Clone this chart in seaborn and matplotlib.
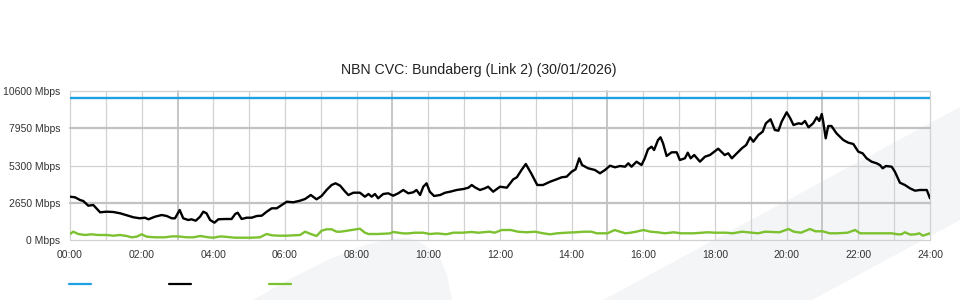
import matplotlib
matplotlib.use("Agg")
import matplotlib.pyplot as plt
import seaborn as sns
import pandas as pd
from matplotlib.lines import Line2D
from matplotlib.patches import Polygon

# ---------------- data ----------------
title = "NBN CVC: Bundaberg (Link 2) (30/01/2026)"
y_ticks = [0, 2650, 5300, 7950, 10600]
y_tick_labels = ["0 Mbps", "2650 Mbps", "5300 Mbps", "7950 Mbps", "10600 Mbps"]
x_ticks = list(range(0, 25, 2))
x_tick_labels = [f"{h:02d}:00" for h in x_ticks]

capacity_time = [0, 24]
capacity_mbps = [10080, 10080]

traffic_time = [0.0, 0.14, 0.28, 0.37, 0.51, 0.65, 0.84, 1.02, 1.21, 1.40, 1.58, 1.77, 1.95, 2.09,
                2.19, 2.37, 2.56, 2.70, 2.84, 2.93, 3.06, 3.16, 3.30, 3.39, 3.51, 3.63, 3.72, 3.81,
                3.91, 4.03, 4.14, 4.33, 4.51, 4.61, 4.68, 4.79, 4.93, 5.07, 5.21, 5.35, 5.49, 5.63,
                5.77, 5.91, 6.05, 6.23, 6.42, 6.56, 6.72, 6.88, 7.02, 7.16, 7.30, 7.41, 7.54, 7.68,
                7.77, 7.91, 8.09, 8.23, 8.33, 8.42, 8.51, 8.60, 8.74, 8.88, 9.02, 9.16, 9.30, 9.44,
                9.58, 9.67, 9.77, 9.86, 9.95, 10.04, 10.16, 10.33, 10.47, 10.61, 10.79, 10.98, 11.12,
                11.21, 11.30, 11.44, 11.58, 11.67, 11.81, 12.0, 12.19, 12.37, 12.47, 12.60, 12.72,
                12.88, 13.04, 13.20, 13.40, 13.58, 13.72, 13.86, 14.0, 14.11, 14.21, 14.29, 14.46,
                14.65, 14.79, 14.93, 15.07, 15.21, 15.35, 15.49, 15.58, 15.67, 15.81, 15.95, 16.04,
                16.13, 16.23, 16.30, 16.41, 16.48, 16.55, 16.65, 16.79, 16.93, 17.02, 17.16, 17.24,
                17.32, 17.42, 17.58, 17.72, 17.86, 18.09, 18.27, 18.37, 18.47, 18.61, 18.75, 18.87,
                18.98, 19.07, 19.21, 19.33, 19.42, 19.55, 19.67, 19.77, 19.86, 20.0, 20.10, 20.19,
                20.33, 20.42, 20.51, 20.61, 20.74, 20.84, 20.91, 20.98, 21.02, 21.09, 21.16, 21.25,
                21.39, 21.58, 21.72, 21.86, 22.0, 22.12, 22.23, 22.37, 22.51, 22.60, 22.68, 22.77,
                22.93, 23.02, 23.16, 23.30, 23.44, 23.58, 23.72, 23.91, 24.0]
traffic_mbps = [3096, 3053, 2861, 2790, 2457, 2506, 1988, 2031, 2009, 1917, 1775, 1633, 1562, 1605,
                1491, 1676, 1796, 1725, 1562, 1562, 2151, 1562, 1441, 1491, 1392, 1676, 2031, 1917,
                1441, 1250, 1491, 1512, 1512, 1867, 1960, 1512, 1605, 1605, 1725, 1747, 2031, 2272,
                2272, 2506, 2741, 2698, 2812, 2932, 3216, 2911, 3145, 3571, 3926, 4047, 3877, 3451,
                3216, 3380, 3380, 3096, 3287, 3096, 3287, 2982, 3287, 3337, 3167, 3337, 3571, 3337,
                3408, 3571, 3216, 3806, 4047, 3451, 3145, 3216, 3380, 3451, 3571, 3642, 3735,
                3926, 3763, 3571, 3692, 3806, 3451, 3806, 3735, 4331, 4473, 4991, 5417,
                4707, 3926, 3926, 4161, 4331, 4473, 4516, 4871, 5041, 5822, 5346, 5112,
                4991, 4757, 4991, 5297, 5183, 5275, 5226, 5467, 5226, 5581, 5346, 5822,
                6461, 6646, 6411, 7121, 7313, 6887, 5985, 6248, 6248, 5701, 5822, 6220,
                5822, 6056, 5581, 5936, 6056, 6504, 6056, 6177, 5822, 6177, 6532, 6766,
                7313, 7001, 7476, 7711, 8307, 8591, 7831, 7782, 8421, 9088, 8662, 8186,
                8307, 8257, 8470, 8023, 8307, 8733, 8470, 8967, 8421, 7242, 8115, 8115,
                7597, 7121, 6930, 6837, 6291, 6177, 5822, 5581, 5467, 5346, 5112, 5275,
                5226, 4871, 4090, 3926, 3692, 3522, 3571, 3571, 2982]

other_time = [0.0, 0.09, 0.23, 0.42, 0.60, 0.79, 1.02, 1.21, 1.40, 1.58, 1.72, 1.86, 2.0, 2.14,
              2.37, 2.65, 2.84, 3.02, 3.25, 3.45, 3.63, 3.86, 4.0, 4.2, 4.4, 4.6, 4.85, 5.07, 5.3,
              5.49, 5.63, 5.82, 6.05, 6.42, 6.56, 6.72, 6.88, 7.02, 7.16, 7.30, 7.44, 7.55, 7.68,
              7.86, 8.09, 8.23, 8.33, 8.6, 8.93, 9.02, 9.3, 9.44, 9.63, 9.85, 10.04, 10.25, 10.5,
              10.7, 10.95, 11.2, 11.4, 11.6, 11.7, 11.85, 12.05, 12.3, 12.5, 12.74, 12.98, 13.2,
              13.4, 13.6, 13.85, 14.1, 14.34, 14.55, 14.7, 15.0, 15.2, 15.35, 15.5, 15.65, 15.8,
              16.0, 16.2, 16.4, 16.6, 16.85, 17.05, 17.4, 17.8, 18.0, 18.3, 18.5, 18.75, 19.2,
              19.4, 19.8, 20.05, 20.2, 20.4, 20.65, 20.8, 21.0, 21.2, 21.4, 21.7, 21.91, 22.05,
              22.4, 22.93, 23.1, 23.2, 23.3, 23.45, 23.6, 23.7, 23.8, 24.0]
other_mbps = [447, 611, 447, 376, 426, 376, 376, 327, 376, 305, 213, 256, 426, 256,
              213, 213, 277, 277, 213, 213, 305, 213, 185, 277, 234, 185, 185, 185, 213,
              447, 355, 327, 327, 376, 611, 447, 305, 682, 781, 781, 611, 611, 660,
              731, 824, 540, 447, 447, 490, 589, 490, 490, 540, 540, 447, 490, 426,
              540, 540, 589, 540, 589, 611, 540, 731, 731, 611, 568, 611, 497,
              426, 497, 540, 568, 611, 611, 497, 497, 731, 611, 497, 540, 611,
              731, 611, 568, 497, 568, 497, 497, 568, 540, 540, 497, 611, 497,
              611, 568, 802, 611, 540, 802, 640, 640, 497, 497, 540, 731, 497,
              497, 497, 426, 426, 568, 403, 426, 497, 327, 497]

capacity_color = "#1da1e2"
traffic_color = "#000000"
other_color = "#7cc12f"
grid_light = "#d2d2d2"
grid_dark = "#c2c2c2"
shape_color = "#f4f5f7"
text_color = "#333333"

# ---------------- figure ----------------
sns.set_theme(style="white")
plt.rcParams["font.family"] = ["Liberation Sans", "DejaVu Sans"]

W, H = 960, 300
fig = plt.figure(figsize=(W / 100, H / 100), dpi=100)
fig.patch.set_facecolor("white")

def fxy(pts):
    return [(x / W, 1 - y / H) for x, y in pts]

# background watermark shapes
shape1 = [(253, 300), (290, 279), (330, 259), (365, 245), (395, 238), (410, 238),
          (425, 245), (440, 258), (447, 275), (452, 300)]
shape2 = [(603, 300), (960, 107), (960, 220), (812, 300)]
for s in (shape1, shape2):
    fig.patches.append(Polygon(fxy(s), closed=True, transform=fig.transFigure,
                               facecolor=shape_color, edgecolor="none", zorder=0))

ax = fig.add_axes([70 / W, (H - 240.3) / H, 860 / W, 149.3 / H])
ax.set_facecolor("none")
ax.set_zorder(1)

for h in range(0, 25):
    dark = h % 6 == 3
    ax.axvline(h, color=grid_dark if dark else grid_light, lw=1.3 if dark else 0.9,
               zorder=1, clip_on=False)
for v in y_ticks:
    dark = v in (2650, 7950)
    ax.axhline(v, color=grid_dark if dark else grid_light, lw=1.6 if dark else 0.9,
               zorder=1, clip_on=False)

cap_df = pd.DataFrame({"time": capacity_time, "mbps": capacity_mbps})
tr_df = pd.DataFrame({"time": traffic_time, "mbps": traffic_mbps})
ot_df = pd.DataFrame({"time": other_time, "mbps": other_mbps})

sns.lineplot(data=cap_df, x="time", y="mbps", color=capacity_color, lw=1.7, ax=ax, zorder=3)
sns.lineplot(data=ot_df, x="time", y="mbps", color=other_color, lw=1.7, ax=ax, zorder=3)
sns.lineplot(data=tr_df, x="time", y="mbps", color=traffic_color, lw=1.7, ax=ax, zorder=4)

ax.set_xlim(0, 24)
ax.set_ylim(0, 10600)
ax.set_xticks(x_ticks)
ax.set_xticklabels(x_tick_labels)
ax.set_yticks(y_ticks)
ax.set_yticklabels(y_tick_labels)
ax.tick_params(axis="both", length=0, labelsize=7.5, colors=text_color, pad=7)
ax.set_xlabel("")
ax.set_ylabel("")
for sp in ax.spines.values():
    sp.set_visible(False)

fig.text(0.499, 1 - 70 / H, title, ha="center", va="center", fontsize=10.2, color="#222222")

handles = [Line2D([], [], color=capacity_color, lw=1.6),
           Line2D([], [], color=traffic_color, lw=1.6),
           Line2D([], [], color=other_color, lw=1.6)]
fig.legend(handles, ["", "", ""], loc="center left", bbox_to_anchor=(69 / W, 15 / H),
           ncol=3, frameon=False, fontsize=10, handlelength=1.6, handletextpad=0,
           columnspacing=5.6, borderpad=0, borderaxespad=0)

fig.savefig("out.png", dpi=100, facecolor="white")
